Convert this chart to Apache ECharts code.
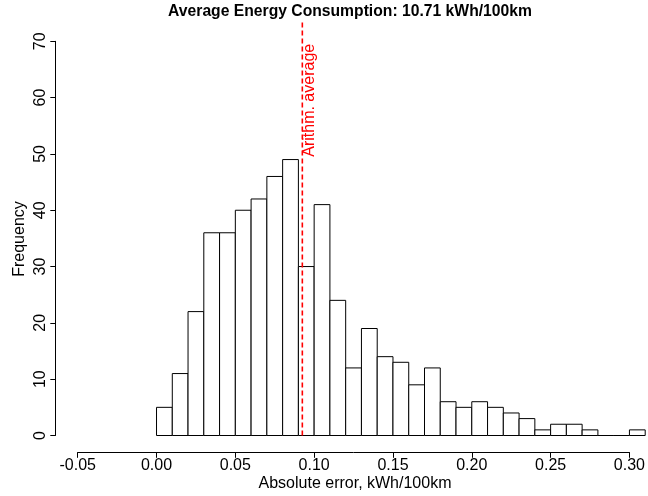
<!DOCTYPE html>
<html>
<head>
<meta charset="utf-8">
<script src="https://cdn.jsdelivr.net/npm/echarts@6/dist/echarts.min.js"></script>
<style>html,body{margin:0;padding:0;background:#fff;}#c{width:648px;height:496px;}</style>
</head>
<body>
<div id="c"></div>
<script>
const binStarts = [0.00,0.01,0.02,0.03,0.04,0.05,0.06,0.07,0.08,0.09,0.10,0.11,0.12,0.13,0.14,0.15,0.16,0.17,0.18,0.19,0.20,0.21,0.22,0.23,0.24,0.25,0.26,0.27,0.28,0.29,0.30];
const binWidth = 0.01;
const counts = [5,11,22,36,36,40,42,46,49,30,41,24,12,19,14,13,9,12,6,5,6,5,4,3,1,2,2,1,0,0,1];
const meanError = 0.0925;
const meanLineRange = [0, 73.4];
const meanLabel = 'Arithm. average';
const meanLabelY = 49.5;
const titleText = 'Average Energy Consumption: 10.71 kWh/100km';
const xTitle = 'Absolute error, kWh/100km';
const yTitle = 'Frequency';
const xRange = [-0.05, 0.30];
const yRange = [0, 70];

const FONT = '"Liberation Sans", Arial, Helvetica, sans-serif';
const histData = binStarts.map((s, i) => [s, s + binWidth, counts[i]]);

const chart = echarts.init(document.getElementById('c'), null, {renderer: 'canvas'});
chart.setOption({
  animation: false,
  backgroundColor: '#fff',
  grid: {left: 77.7, top: 41.3, width: 554.3, height: 394.2, containLabel: false},
  xAxis: {
    type: 'value', min: xRange[0], max: xRange[1], interval: 0.05,
    offset: 16.8,
    axisLine: {show: true, onZero: false, lineStyle: {color: '#000', width: 1}},
    axisTick: {show: true, length: 5.5, lineStyle: {color: '#000'}},
    axisLabel: {fontFamily: FONT, fontSize: 16, color: '#000', margin: 5.5,
      formatter: v => v.toFixed(2)},
    splitLine: {show: false}
  },
  yAxis: {
    type: 'value', min: yRange[0], max: yRange[1], interval: 10,
    offset: 22.4,
    axisLine: {show: true, onZero: false, lineStyle: {color: '#000', width: 1}},
    axisTick: {show: true, length: 5, lineStyle: {color: '#000'}},
    axisLabel: {fontFamily: FONT, fontSize: 16, color: '#000', rotate: 90, margin: 7},
    splitLine: {show: false}
  },
  graphic: [
    {type: 'text', x: 350, y: 11.5, style: {text: titleText, fontFamily: FONT, fontSize: 15.7, fontWeight: 'bold', fill: '#000', align: 'center', verticalAlign: 'middle'}},
    {type: 'text', x: 355, y: 484, style: {text: xTitle, fontFamily: FONT, fontSize: 16, fill: '#000', align: 'center', verticalAlign: 'middle'}},
    {type: 'text', x: 19.5, y: 239, rotation: Math.PI / 2, style: {text: yTitle, fontFamily: FONT, fontSize: 16, fill: '#000', align: 'center', verticalAlign: 'middle'}}
  ],
  series: [
    {
      type: 'custom',
      clip: false,
      data: histData,
      renderItem: function (params, api) {
        const p0 = api.coord([api.value(0), 0]);
        const p1 = api.coord([api.value(1), api.value(2)]);
        return {
          type: 'rect',
          shape: {x: p0[0], y: p1[1], width: p1[0] - p0[0], height: p0[1] - p1[1]},
          style: {fill: '#fff', stroke: '#000', lineWidth: 1}
        };
      },
      z: 1
    },
    {
      type: 'line',
      clip: false,
      symbol: 'none',
      data: [[meanError, meanLineRange[0]], [meanError, meanLineRange[1]]],
      lineStyle: {color: '#ff0000', width: 1.6, type: [5, 3]},
      z: 3
    },
    {
      type: 'custom',
      clip: false,
      data: [[meanError, meanLabelY]],
      renderItem: function (params, api) {
        const p = api.coord([api.value(0), api.value(1)]);
        return {
          type: 'text',
          x: p[0] + 7.5, y: p[1],
          rotation: Math.PI / 2,
          style: {text: meanLabel, fontFamily: FONT, fontSize: 16, fill: '#ff0000', align: 'left', verticalAlign: 'middle'}
        };
      },
      z: 4
    }
  ]
});
</script>
</body>
</html>
